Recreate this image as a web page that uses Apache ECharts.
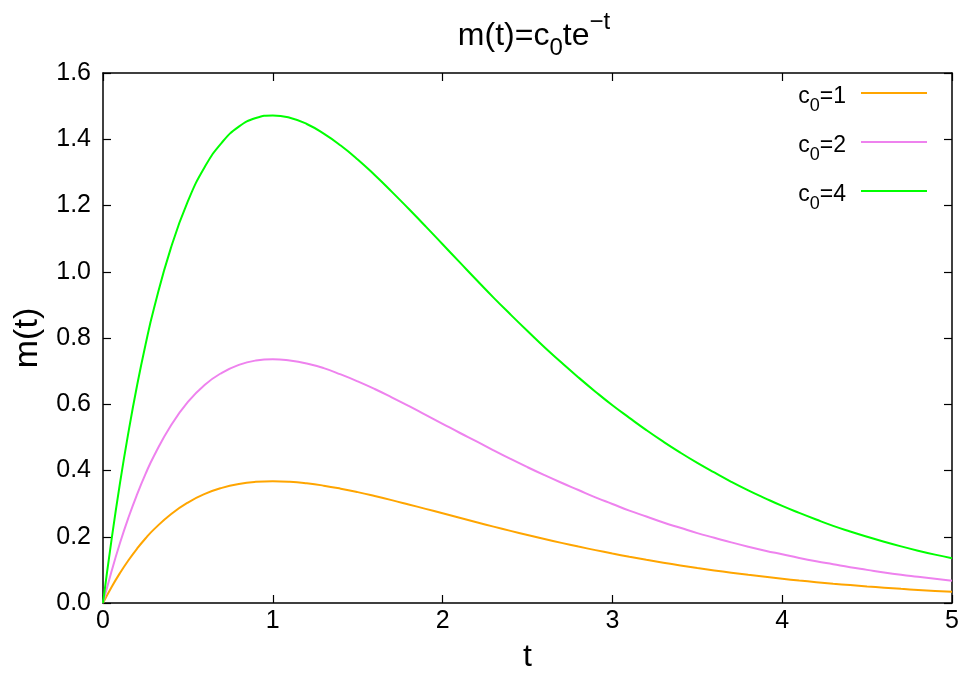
<!DOCTYPE html>
<html>
<head>
<meta charset="utf-8">
<script src="https://cdn.jsdelivr.net/npm/echarts@6/dist/echarts.min.js"></script>
<style>html,body{margin:0;padding:0;background:#fff;}#c{width:963px;height:678px;}</style>
</head>
<body>
<div id="c"></div>
<script>
const tValues = [0,0.05,0.1,0.15,0.2,0.25,0.3,0.4,0.5,0.6,0.7,0.8,0.9,1.0,1.1,1.2,1.3,1.4,1.5,1.6,1.7,1.8,1.9,2.0,2.1,2.2,2.3,2.4,2.5,2.6,2.7,2.8,2.9,3.0,3.1,3.2,3.3,3.4,3.5,3.6,3.7,3.8,3.9,4.0,4.1,4.2,4.3,4.4,4.5,4.6,4.7,4.8,4.9,5.0];
const c1Values = [0,0.0476,0.0905,0.1291,0.1637,0.1947,0.2222,0.2681,0.3033,0.3293,0.3476,0.3595,0.3659,0.3679,0.3662,0.3614,0.3543,0.3452,0.3347,0.3230,0.3106,0.2975,0.2842,0.2707,0.2572,0.2438,0.2306,0.2177,0.2052,0.1931,0.1815,0.1703,0.1596,0.1494,0.1397,0.1304,0.1217,0.1135,0.1057,0.0984,0.0915,0.0850,0.0790,0.0733,0.0679,0.0630,0.0583,0.0540,0.0500,0.0462,0.0427,0.0395,0.0365,0.0337];
const c2Values = [0,0.095,0.181,0.258,0.327,0.389,0.444,0.536,0.607,0.659,0.695,0.719,0.732,0.736,0.732,0.723,0.709,0.690,0.669,0.646,0.621,0.595,0.568,0.541,0.514,0.488,0.461,0.435,0.410,0.386,0.363,0.341,0.319,0.299,0.279,0.261,0.243,0.227,0.211,0.197,0.183,0.170,0.158,0.147,0.136,0.126,0.117,0.108,0.100,0.092,0.085,0.079,0.073,0.067];
const c4Values = [0,0.190,0.362,0.516,0.655,0.779,0.889,1.072,1.213,1.317,1.390,1.438,1.464,1.472,1.465,1.446,1.417,1.381,1.339,1.292,1.242,1.190,1.137,1.083,1.029,0.975,0.922,0.871,0.821,0.772,0.726,0.681,0.638,0.597,0.559,0.522,0.487,0.454,0.423,0.394,0.366,0.340,0.316,0.293,0.272,0.252,0.233,0.216,0.200,0.185,0.171,0.158,0.146,0.135];
const seriesNames = ['c0=1','c0=2','c0=4'];
const legendLabels = ['{a|c}{s|0}{a|=1}','{a|c}{s|0}{a|=2}','{a|c}{s|0}{a|=4}'];
const seriesColors = ['#ffa500','#ee82ee','#00ff00'];
const yTicks = ['0.0','0.2','0.4','0.6','0.8','1.0','1.2','1.4','1.6'];

const FONT = '"Liberation Sans", Arial, sans-serif';
const pair = (vals) => tValues.map((t, i) => [t, vals[i]]);
const allVals = [c1Values, c2Values, c4Values];

const chart = echarts.init(document.getElementById('c'), null, {renderer: 'canvas'});
const axisLine = {show: true, onZero: false, lineStyle: {color: '#000', width: 1.5}};
const tick = {show: true, inside: true, length: 8, lineStyle: {color: '#000', width: 1.2}};
chart.setOption({
  animation: false,
  backgroundColor: '#fff',
  title: {
    text: '{m|m(t)=c}{s|0}{m|te}{p|\u2212t}',
    left: 529, textAlign: 'center', top: 5,
    textStyle: {
      fontWeight: 'normal',
      rich: {
        m: {fontFamily: FONT, fontSize: 32, fontWeight: 'normal', color: '#000', verticalAlign: 'bottom', lineHeight: 42},
        s: {fontFamily: FONT, fontSize: 24, fontWeight: 'normal', color: '#000', verticalAlign: 'bottom', lineHeight: 42, padding: [0,0,-8,0]},
        p: {fontFamily: FONT, fontSize: 24, fontWeight: 'normal', color: '#000', verticalAlign: 'top', lineHeight: 42, padding: [0,0,8,0]}
      }
    }
  },
  legend: {
    orient: 'vertical',
    right: 31, top: 80,
    align: 'right',
    itemGap: 19,
    itemWidth: 66, itemHeight: 2,
    icon: 'rect',
    data: seriesNames,
    formatter: (name) => legendLabels[seriesNames.indexOf(name)],
    textStyle: {
      padding: [0, 10, 0, 0],
      rich: {
        a: {fontFamily: FONT, fontSize: 23, color: '#000', lineHeight: 30, verticalAlign: 'bottom'},
        s: {fontFamily: FONT, fontSize: 18, color: '#000', lineHeight: 30, verticalAlign: 'bottom', padding: [0,0,-7,0]}
      }
    }
  },
  grid: {left: 103, right: 11, top: 73, bottom: 71, containLabel: false},
  xAxis: [{
    type: 'value', min: 0, max: 5, interval: 1, position: 'bottom',
    name: 't', nameLocation: 'middle', nameGap: 38,
    nameTextStyle: {fontFamily: FONT, fontSize: 32, color: '#000'},
    axisLine: axisLine, axisTick: tick, splitLine: {show: false},
    axisLabel: {fontFamily: FONT, fontSize: 25, color: '#000', margin: 6}
  }, {
    type: 'value', min: 0, max: 5, interval: 1, position: 'top',
    axisLine: axisLine, axisTick: tick, splitLine: {show: false},
    axisLabel: {show: false}
  }],
  yAxis: [{
    type: 'value', min: 0, max: 1.6, interval: 0.2, position: 'left',
    name: 'm(t)', nameLocation: 'middle', nameGap: 58, nameRotate: 90,
    nameTextStyle: {fontFamily: FONT, fontSize: 34, color: '#000'},
    axisLine: axisLine, axisTick: tick, splitLine: {show: false},
    axisLabel: {fontFamily: FONT, fontSize: 25, color: '#000', margin: 12,
      formatter: (v) => yTicks[Math.round(v / 0.2)]}
  }, {
    type: 'value', min: 0, max: 1.6, interval: 0.2, position: 'right',
    axisLine: axisLine, axisTick: tick, splitLine: {show: false},
    axisLabel: {show: false}
  }],
  series: seriesNames.map((n, i) => ({
    name: n, type: 'line', data: pair(allVals[i]),
    showSymbol: false, symbol: 'none', smooth: 0.5,
    lineStyle: {color: seriesColors[i], width: 2},
    itemStyle: {color: seriesColors[i]}
  }))
});
</script>
</body>
</html>
